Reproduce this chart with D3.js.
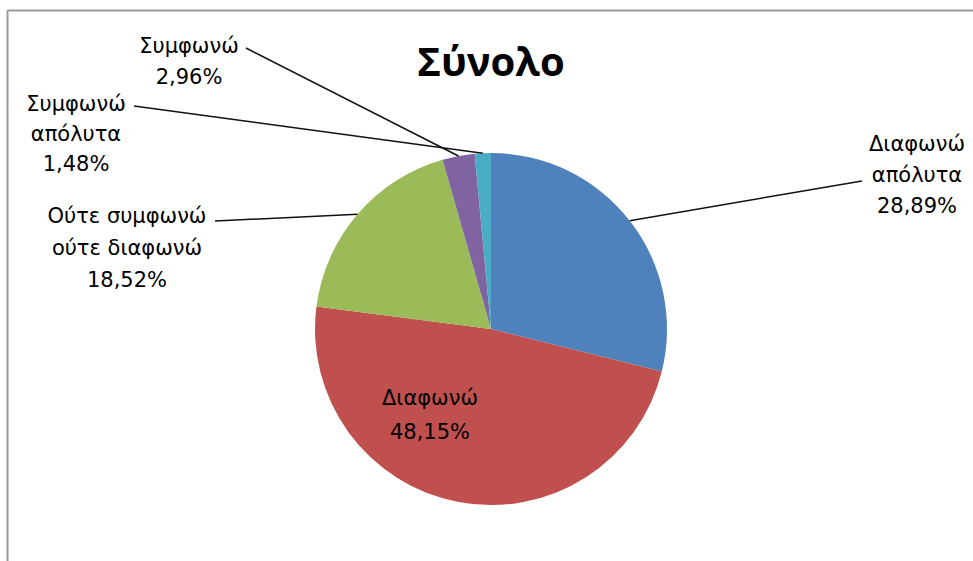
<!DOCTYPE html>
<html>
<head>
<meta charset="utf-8">
<script src="https://cdn.jsdelivr.net/npm/d3@7"></script>
<style>
  html, body { margin: 0; padding: 0; background: #fff; }
  svg { display: block; }
</style>
</head>
<body>
<svg id="chart" width="973" height="561"></svg>
<script>
// ---- data ----
const title = "Σύνολο";
const categories = ["Διαφωνώ απόλυτα", "Διαφωνώ", "Ούτε συμφωνώ ούτε διαφωνώ", "Συμφωνώ", "Συμφωνώ απόλυτα"];
const labelLines = [["Διαφωνώ", "απόλυτα"], ["Διαφωνώ"], ["Ούτε συμφωνώ", "ούτε διαφωνώ"], ["Συμφωνώ"], ["Συμφωνώ", "απόλυτα"]];
const values = [28.89, 48.15, 18.52, 2.96, 1.48];
const colors = ["#4F81BD", "#C0504D", "#9BBB59", "#8064A2", "#4BACC6"];

// ---- layout (not data) ----
const W = 973, H = 561;
const cx = 491, cy = 329, R = 176;
const titleFont = "'Open Sans', 'Noto Sans', sans-serif";
const labelFont = "'DejaVu Sans', 'Noto Sans', sans-serif";
// label block centre x, first-line baseline y, line step, leader start
const labelLayout = [
  { x: 917, y: 151, step: 31, lead: [862, 181] },
  { x: 430, y: 405, step: 34, lead: null },
  { x: 127, y: 223, step: 32, lead: [215, 221] },
  { x: 189, y: 53, step: 31, lead: [246, 48] },
  { x: 76, y: 111, step: 30, lead: [134, 106] }
];

const svg = d3.select("#chart");

// chart frame (only top & left edges visible in crop)
svg.append("line").attr("x1", 7.5).attr("y1", 10.5).attr("x2", W).attr("y2", 10.5)
  .attr("stroke", "#9a9a9a").attr("stroke-width", 2);
svg.append("line").attr("x1", 7.5).attr("y1", 10.5).attr("x2", 7.5).attr("y2", H)
  .attr("stroke", "#9a9a9a").attr("stroke-width", 2);

// title
svg.append("text").attr("x", cx).attr("y", 76).attr("text-anchor", "middle")
  .attr("font-family", titleFont).attr("font-weight", "bold").attr("font-size", 40)
  .attr("fill", "#000").text(title);

const pie = d3.pie().sort(null).value(d => d)(values);
const arc = d3.arc().innerRadius(0).outerRadius(R);

const g = svg.append("g").attr("transform", `translate(${cx},${cy})`);
g.selectAll("path.slice").data(pie).join("path")
  .attr("class", "slice")
  .attr("d", arc)
  .attr("fill", (d, i) => colors[i]);

const fmt = v => v.toFixed(2).replace(".", ",") + "%";

// leader lines
pie.forEach((d, i) => {
  const L = labelLayout[i];
  if (!L.lead) return;
  const mid = (d.startAngle + d.endAngle) / 2;
  const px = cx + R * Math.sin(mid), py = cy - R * Math.cos(mid);
  svg.append("line")
    .attr("x1", L.lead[0]).attr("y1", L.lead[1])
    .attr("x2", px).attr("y2", py)
    .attr("stroke", "#111").attr("stroke-width", 1.5);
});

// labels
pie.forEach((d, i) => {
  const L = labelLayout[i];
  const lines = labelLines[i].concat([fmt(values[i])]);
  const t = svg.append("text")
    .attr("text-anchor", "middle")
    .attr("font-family", labelFont).attr("font-size", 21)
    .attr("fill", "#000");
  lines.forEach((s, k) => {
    t.append("tspan").attr("x", L.x).attr("y", L.y + k * L.step).text(s);
  });
});
</script>
</body>
</html>
